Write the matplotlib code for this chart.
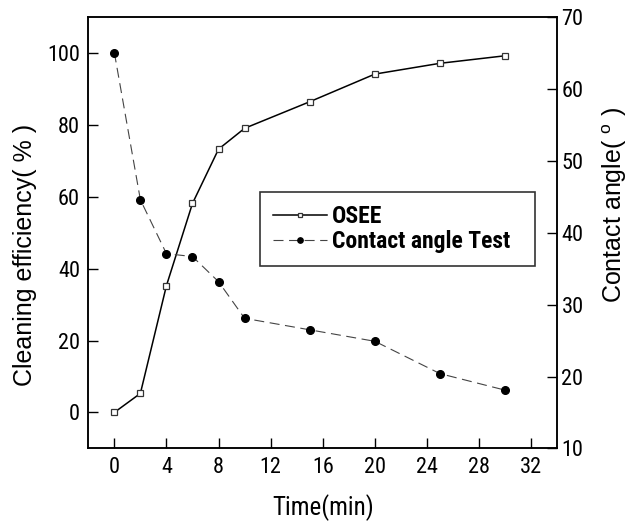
import matplotlib
matplotlib.use("Agg")
from matplotlib import pyplot as plt
from matplotlib import font_manager
from matplotlib.ticker import MultipleLocator

# data
time = [0, 2, 4, 6, 8, 10, 15, 20, 25, 30]
osee = [0, 5.3, 35.3, 58.2, 73.3, 79.1, 86.5, 94.2, 97.2, 99.3]
contact_angle = [65.1, 44.6, 37.1, 36.7, 33.2, 28.1, 26.5, 24.9, 20.4, 18.1]

# look for a condensed face, fall back on the plain one
installed = {f.name for f in font_manager.fontManager.ttflist}
narrow_name = None
for n in ["Liberation Sans Narrow", "Arial Narrow", "Roboto Condensed",
          "Open Sans Condensed", "DejaVu Sans Condensed"]:
    if n in installed:
        narrow_name = n
        break
regular = ["Liberation Sans", "DejaVu Sans"]
narrow = [narrow_name] + regular if narrow_name else regular

plt.rcParams["mathtext.fontset"] = "custom"
plt.rcParams["mathtext.rm"] = "Liberation Sans"

fig = plt.figure(figsize=(6.42, 5.25), dpi=100)
ax = fig.add_axes([0.1375, 0.146, 0.7305, 0.821])
ax2 = ax.twinx()

l1, = ax.plot(time, osee, color="black", lw=1.1, marker="s", ms=5,
              mfc="white", mec="#333333", mew=0.9, label="OSEE")
l2, = ax2.plot(time, contact_angle, color="#444444", lw=0.8, ls=(0, (9, 5)),
               marker="o", ms=5.5, mfc="black", mec="black", label="Contact angle Test")

ax.set_xlim(-2, 34)
ax.set_ylim(-10, 110)
ax2.set_ylim(10, 70)
ax.xaxis.set_major_locator(MultipleLocator(4))
ax.set_yticks([0, 20, 40, 60, 80, 100])
ax2.yaxis.set_major_locator(MultipleLocator(10))

tick_size = 16 if narrow_name else 15
for a in (ax, ax2):
    a.tick_params(direction="in", length=7, width=1, labelsize=tick_size)
    for lab in a.get_xticklabels() + a.get_yticklabels():
        lab.set_family(narrow)
    for s in a.spines.values():
        s.set_linewidth(1.1)
ax.tick_params(axis="x", pad=6)
ax.tick_params(axis="y", pad=6)
ax2.tick_params(axis="y", pad=3)

ax.set_xlabel("Time(min)", fontsize=18 if narrow_name else 16.5, family=narrow, labelpad=12)
ax.set_ylabel("Cleaning efficiency( % )", fontsize=18, family=regular)
ax2.set_ylabel(r"Contact angle( $^{\mathrm{o}}$ )", fontsize=18, family=regular)
ax.yaxis.set_label_coords(-0.109, 0.448)
ax2.yaxis.set_label_coords(1.091, 0.565)

leg_size = 17 if narrow_name else 14.3
leg = ax.legend([l1, l2], ["OSEE", "Contact angle Test"],
                loc="upper left", bbox_to_anchor=(0.366, 0.595, 0.586, 0.0),
                mode="expand", frameon=True, fancybox=False, edgecolor="black",
                handlelength=2.3, handletextpad=0.2, markerscale=0.7,
                borderpad=0.55, labelspacing=0.08, borderaxespad=0,
                prop={"family": narrow, "weight": "bold", "size": leg_size})
leg.get_frame().set_linewidth(1.2)

fig.savefig("out.png", dpi=100)
